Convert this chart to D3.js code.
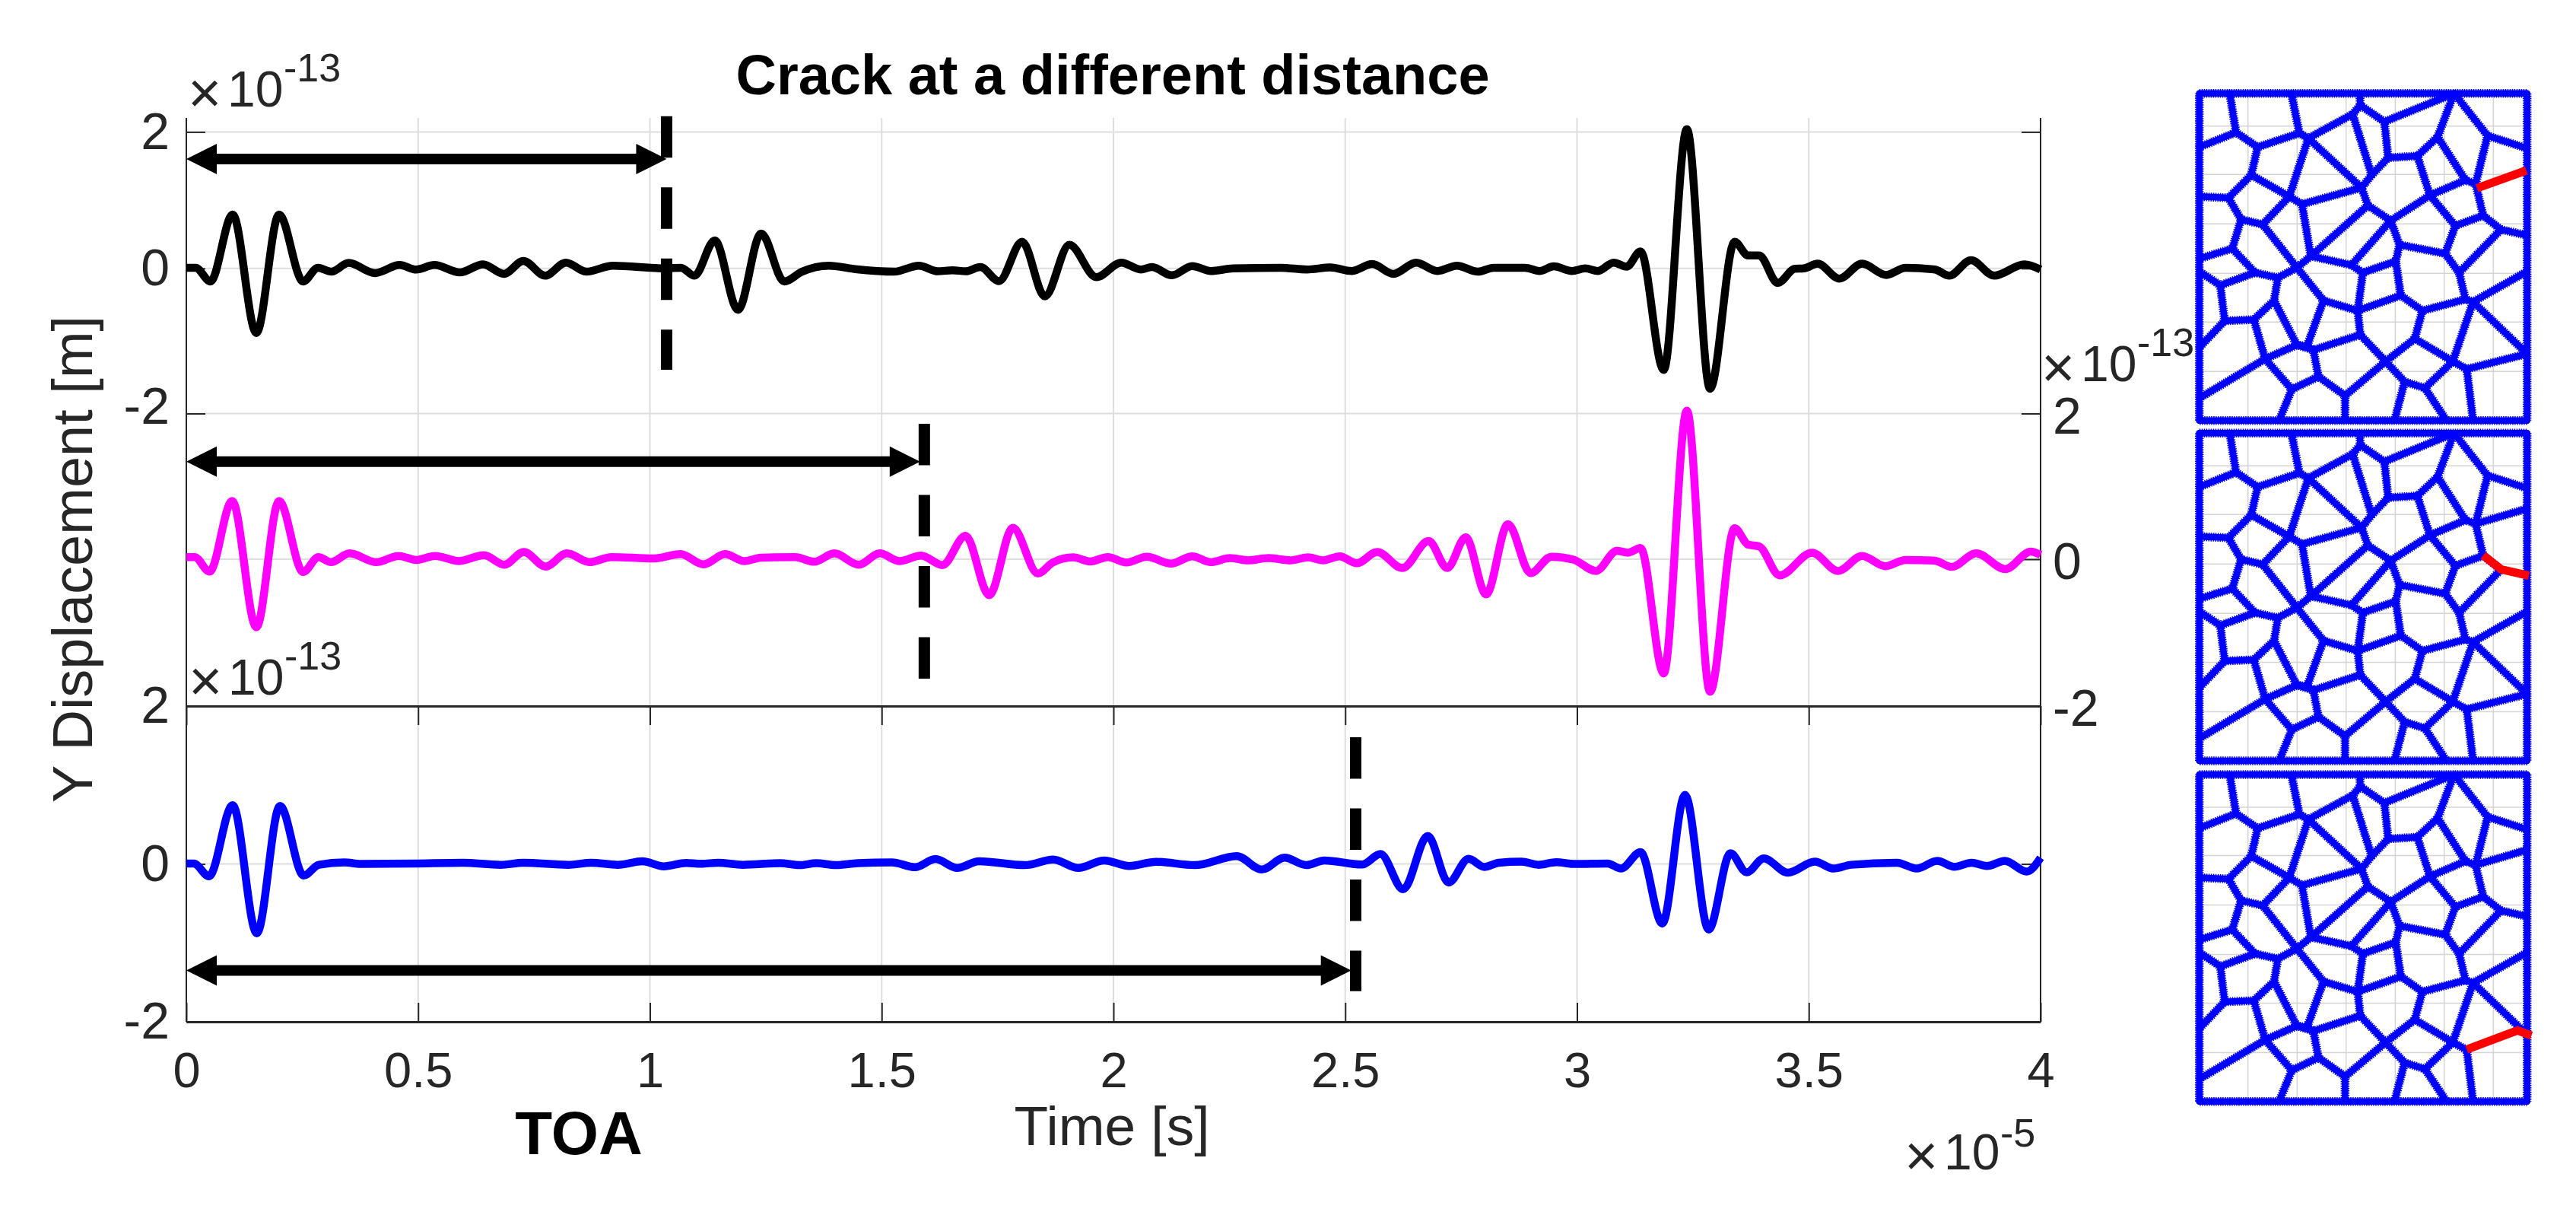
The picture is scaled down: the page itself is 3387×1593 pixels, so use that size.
<!doctype html>
<html lang="en">
<head>
<meta charset="utf-8">
<title>Crack at a different distance</title>
<script src="https://d3js.org/d3.v7.min.js"></script>
<style>
  body { margin: 0; background: #fff; }
  text { font-family: "Liberation Sans", Arial, sans-serif; fill: #262626; }
  .tick text { font-size: 65px; }
  .yaxis .tick text { font-size: 68px; }
  .tick line, .domain { stroke: #262626; }
</style>
</head>
<body>
<svg id="chart" width="3387" height="1593"></svg>
<script>
// time axis is in units of 1e-5 s, displacement in units of 1e-13 m
const xTicks = [0, 0.5, 1, 1.5, 2, 2.5, 3, 3.5, 4];
const xTickLabels = ["0", "0.5", "1", "1.5", "2", "2.5", "3", "3.5", "4"];
const yTicks = [-2, 0, 2];

const tBlack = [0,.02,.052,.10,.151,.20,.252,.284,.313,.35,.407,.46,.496,.535,.59,.64,.685,.727,.774,.819,.863,.92,1.035,1.067,1.096,1.14,1.19,1.24,1.29,1.328,1.386,1.443,1.527,1.58,1.621,1.653,1.681,1.713,1.753,1.803,1.852,1.905,1.963,2.017,2.059,2.083,2.126,2.17,2.21,2.258,2.361,2.417,2.468,2.514,2.558,2.604,2.653,2.699,2.741,2.786,2.82,2.888,2.919,2.95,2.989,3.018,3.045,3.079,3.107,3.137,3.187,3.237,3.287,3.34,3.369,3.393,3.433,3.47,3.489,3.519,3.566,3.615,3.667,3.709,3.772,3.803,3.85,3.9,3.965,4];
const yBlack = [.01,.01,-.18,.79,-.89,.79,-.18,.01,-.045,.08,-.065,.05,-.015,.05,-.055,.06,-.075,.11,-.10,.085,-.045,.04,0,.01,-.10,.41,-.57,.51,-.18,-.045,.04,-.01,-.045,.04,-.04,-.025,-.04,.02,-.175,.39,-.385,.345,-.12,.085,-.015,.02,-.095,.035,-.035,0,.01,-.015,.015,-.035,.065,-.075,.085,-.035,.04,-.045,.01,.01,-.035,.03,-.035,0,-.035,.085,.025,.25,-1.40,2.04,-1.66,.39,.19,.19,-.20,-.005,0,.07,-.14,.07,-.09,.01,-.015,-.10,.12,-.10,.06,-.015];

const tMagenta = [0,.018,.05,.099,.151,.20,.252,.285,.312,.352,.41,.458,.496,.537,.588,.642,.686,.728,.775,.821,.87,.917,1.009,1.066,1.116,1.162,1.204,1.239,1.314,1.354,1.398,1.45,1.496,1.538,1.585,1.631,1.681,1.732,1.783,1.837,1.869,1.913,1.95,1.988,2.028,2.072,2.124,2.17,2.21,2.251,2.291,2.334,2.382,2.42,2.452,2.488,2.525,2.569,2.623,2.68,2.72,2.76,2.804,2.851,2.9,2.945,2.992,3.041,3.086,3.11,3.137,3.187,3.237,3.287,3.34,3.369,3.393,3.437,3.507,3.563,3.615,3.665,3.709,3.772,3.808,3.861,3.924,3.979,4];
const yMagenta = [.03,.03,-.17,.80,-.93,.80,-.175,.03,-.04,.08,-.04,.045,-.01,.045,-.025,.055,-.075,.10,-.10,.08,-.04,.03,.01,.07,-.07,.07,-.025,.02,.03,-.035,.08,-.075,.08,-.025,.05,-.08,.32,-.49,.43,-.195,-.045,.025,-.03,.03,-.045,.035,-.06,.04,-.04,.015,-.015,.015,-.015,.025,-.015,.04,-.055,.10,-.12,.25,-.12,.30,-.48,.48,-.19,.035,-.005,-.16,.115,.09,.155,-1.56,2.04,-1.81,.425,.20,.175,-.22,.09,-.16,.045,-.095,-.01,-.02,-.105,.08,-.135,.105,.06];

const tBlue = [0,.016,.049,.10,.152,.202,.253,.286,.341,.376,.49,.596,.678,.727,.824,.873,.931,.984,1.03,1.078,1.11,1.147,1.2,1.281,1.323,1.359,1.401,1.448,1.522,1.572,1.616,1.663,1.71,1.809,1.87,1.924,1.98,2.034,2.092,2.175,2.266,2.32,2.369,2.416,2.455,2.536,2.576,2.625,2.678,2.723,2.766,2.8,2.831,2.88,2.917,2.955,2.996,3.066,3.095,3.137,3.184,3.233,3.284,3.331,3.366,3.403,3.455,3.513,3.554,3.591,3.69,3.733,3.777,3.814,3.851,3.884,3.923,3.97,4];
const yBlue = [.005,.005,-.155,.745,-.88,.735,-.145,-.01,.02,0,.005,.015,-.01,.015,-.01,.015,-.01,.035,-.03,.013,.003,.016,-.01,.01,-.014,.01,-.014,.01,.02,-.04,.063,-.05,.035,-.014,.056,-.05,.045,-.025,.028,-.014,.10,-.07,.08,-.014,.045,-.007,.126,-.32,.354,-.235,.065,-.037,.016,.03,-.01,.022,0,.006,-.058,.15,-.755,.875,-.83,.135,-.106,.07,-.11,.03,-.058,-.01,.016,-.058,.04,-.035,.016,-.026,.04,-.096,.08];

// time of arrival per trace: dashed marker position and arrow tip
const toaTimes = [1.036, 1.592, 2.5225];
const arrowEnds = [1.036, 1.583, 2.513];
const arrowLevels = [1.603, 1.339, -1.349];
const dashTop = [2.23, 1.86, 1.606];
const dashBottom = [-1.397, -1.635, -1.613];

const meshNodes = {
  a:[215,68],b:[458,68],c:[728,68],d:[1100,68],
  e:[95,280],f:[95,475],g:[95,720],h:[95,770],i:[95,1070],j:[95,1270],
  k:[1388,285],l:[1388,365],m:[1388,628],n:[1388,770],o:[1388,1095],
  p:[410,1358],q:[670,1358],r:[865,1358],s:[1070,1358],t:[1175,1358],
  A:[240,222],B:[325,280],C:[490,225],D:[525,245],E:[700,150],F:[730,115],G:[825,180],H:[840,322],
  I:[775,390],J:[955,315],K:[1035,240],L:[1232,235],M:[1145,410],N:[1185,425],O:[1005,470],P:[850,570],
  Q:[760,510],R:[735,440],S:[500,505],T:[450,475],U:[300,390],V:[210,480],W:[260,565],X:[345,585],
  Y:[225,680],Z:[315,775],AA:[405,795],AB:[480,755],AC:[535,710],AD:[695,745],AE:[740,775],AF:[870,730],
  AG:[885,665],AH:[1065,700],AI:[1105,590],AJ:[1215,550],AK:[1285,605],AL:[1120,775],AM:[1145,880],AN:[1175,890],
  AO:[975,925],AP:[890,865],AQ:[720,925],AR:[585,885],AS:[520,1065],AT:[480,1060],AU:[390,885],AV:[310,960],
  AW:[195,965],AX:[178,825],AY:[355,1115],AZ:[545,1080],BA:[730,1020],BB:[830,1125],BC:[945,1035],BD:[1095,1125],
  BE:[1150,1155],BF:[985,1230],BG:[905,1205],BH:[565,1185],BI:[460,1235],BJ:[670,1260],
  TL:[95,68],TR:[1388,68],BL:[95,1358],BR:[1388,1358]
};
const meshEdges = ["TL-TR","TR-BR","BR-BL","BL-TL","a-A","e-A","A-B","b-C","B-C","C-D","D-E","E-F","c-F","F-G","G-d","G-H","E-I","H-I","H-J","J-K","K-d","d-L","L-k","K-M","L-N","M-N","J-O","O-M","O-P","P-Q","I-R","R-Q","D-R","R-S","T-S","D-T","U-T","B-U","U-V","f-V","V-W","W-X","T-X","W-Y","g-Y","Y-Z","Z-AA","AA-AB","X-AB","AB-AC","S-AC","AC-Q","AC-AD","AD-P","AD-AE","AE-AF","AF-AG","P-AG","AG-AH","AH-AI","AI-O","AI-AJ","AJ-N","AJ-AK","AL-AK","AH-AL","AL-AM","AM-AN","AN-n","AM-AO","AO-AP","AF-AP","AP-AQ","AE-AQ","AQ-AR","AB-AR","AR-AS","AS-AZ","AT-AZ","AS-AT","AA-AU","AU-AT","AU-AV","AV-AW","AW-AX","AX-h","AX-Z","AW-i","AV-AY","AY-AT","AY-j","AQ-BA","AZ-BA","BA-BB","BB-BC","AO-BC","BC-BD","AN-BD","BD-BE","BE-t","AN-o","BD-BF","BF-BG","BB-BG","BG-r","BF-s","AZ-BH","BH-BI","AY-BI","BI-p","BH-BJ","BB-BJ","BJ-q"];
// each mesh has its own crack (red) and the edges it leaves in place
const meshExtra = [["AK-m","BE-o"], ["N-l","BE-o"], ["N-l","AK-m"]];
const cracks = [
  [[1190,442],[1385,372]],
  [[1215,549],[1285,604],[1395,629]],
  [[1150,1153],[1350,1078],[1405,1098]]
];
const meshGridX = [287,481,674,868,1061,1255];
const meshGridY = [197,388,583,778,970,1165];

const svg = d3.select("#chart");
const lineColors = ["#000000", "#ff00ff", "#0000ff"];
const curves = [[tBlack, yBlack], [tMagenta, yMagenta], [tBlue, yBlue]];

const x = d3.scaleLinear().domain([0, 4]).range([245, 2683]);
const y1 = d3.scaleLinear().domain([-2, 0, 2]).range([543.5, 352.8, 173.4]);
const y2 = d3.scaleLinear().domain([-2, 0, 2]).range([927.5, 735, 543.5]);
const y3 = d3.scaleLinear().domain([-2, 0, 2]).range([1343, 1135.6, 928]);
const yScales = [y1, y2, y3];
const axisTop = 155;

// grid
const grid = svg.append("g").attr("stroke", "#dedede").attr("stroke-width", 2);
grid.selectAll("line.v").data(xTicks.slice(1, -1)).enter().append("line")
  .attr("x1", d => x(d)).attr("x2", d => x(d)).attr("y1", axisTop).attr("y2", y3(-2));
[[y1, yTicks], [y2, [0]], [y3, [0]]].forEach(([sc, vals]) => {
  grid.selectAll(null).data(vals).enter().append("line")
    .attr("x1", x(0)).attr("x2", x(4)).attr("y1", d => sc(d)).attr("y2", d => sc(d));
});

// axes
function styleAxis(g, w) {
  g.selectAll(".domain").attr("stroke-width", w);
  g.selectAll(".tick line").attr("stroke-width", 2);
}
const xBottom = svg.append("g").attr("transform", `translate(0,${y3(-2)})`)
  .call(d3.axisBottom(x).tickValues(xTicks).tickSize(-25).tickSizeOuter(0).tickPadding(40)
    .tickFormat((d, i) => xTickLabels[i]));
styleAxis(xBottom, 3);
const xTop = svg.append("g").attr("transform", `translate(0,${y3(2)})`)
  .call(d3.axisTop(x).tickValues(xTicks).tickSize(-25).tickSizeOuter(0).tickFormat(""));
styleAxis(xTop, 3);

const leftAxes = [[y1, yTicks], [y3, yTicks]];
leftAxes.forEach(([sc, vals], i) => {
  const g = svg.append("g").attr("class", "yaxis").attr("transform", `translate(${x(0)},0)`)
    .call(d3.axisLeft(sc).tickValues(vals).tickSize(-25).tickSizeOuter(0).tickFormat(d => d === -2 ? "-2" : d));
  g.selectAll(".domain").remove();
  styleAxis(g, 2);
  g.selectAll(".tick text").attr("x", -22);
  // the lowest label of the top axis sits above its tick in the original
  if (i === 0) g.selectAll(".tick text").filter(d => d === -2).attr("y", -9);
});

const rightY2 = svg.append("g").attr("class", "yaxis").attr("transform", `translate(${x(4)},0)`)
  .call(d3.axisRight(y2).tickValues(yTicks).tickSize(-25).tickSizeOuter(0).tickFormat(d => d === -2 ? "-2" : d));
rightY2.selectAll(".domain").remove();
styleAxis(rightY2, 2);
rightY2.selectAll(".tick text").attr("x", 16).attr("dy", "0.38em");
[[y1, yTicks], [y3, [0]]].forEach(([sc, vals]) => {
  const g = svg.append("g").attr("transform", `translate(${x(4)},0)`)
    .call(d3.axisRight(sc).tickValues(vals).tickSize(-25).tickSizeOuter(0).tickFormat(""));
  g.selectAll(".domain").remove();
  styleAxis(g, 2);
});

// full height spines
[0, 4].forEach(v => {
  svg.append("line").attr("x1", x(v)).attr("x2", x(v)).attr("y1", axisTop).attr("y2", y3(-2))
    .attr("stroke", "#262626").attr("stroke-width", 2);
});

// traces
curves.forEach(([ts, ys], i) => {
  const line = d3.line().x(d => x(d)).y((d, k) => yScales[i](ys[k])).curve(d3.curveMonotoneX);
  svg.append("path").datum(ts).attr("d", line)
    .attr("fill", "none").attr("stroke", lineColors[i]).attr("stroke-width", 10.5).attr("stroke-linejoin", "round");
});

// TOA markers and arrows
toaTimes.forEach((t, i) => {
  const sc = yScales[i];
  svg.append("line").attr("x1", x(t)).attr("x2", x(t)).attr("y1", sc(dashTop[i])).attr("y2", sc(dashBottom[i]))
    .attr("stroke", "#000").attr("stroke-width", 15).attr("stroke-dasharray", "54.5 39");
  const x0 = x(0), x1 = x(arrowEnds[i]), yy = sc(arrowLevels[i]);
  svg.append("line").attr("x1", x0 + 30).attr("x2", x1 - 30).attr("y1", yy).attr("y2", yy)
    .attr("stroke", "#000").attr("stroke-width", 14);
  svg.append("path").attr("fill", "#000")
    .attr("d", d3.line()([[x0, yy], [x0 + 40, yy - 20], [x0 + 40, yy + 20]]) + "Z");
  svg.append("path").attr("fill", "#000")
    .attr("d", d3.line()([[x1, yy], [x1 - 40, yy - 20], [x1 - 40, yy + 20]]) + "Z");
});

// labels
function scaleNote(x0, base, supBase, sup) {
  svg.append("text").attr("x", x0 - 4).attr("y", base + 8).attr("font-size", 76).text("×");
  svg.append("text").attr("x", x0 + 48).attr("y", base).attr("font-size", 66).text("10");
  svg.append("text").attr("x", x0 + 122).attr("y", supBase).attr("font-size", 52).text(sup);
}
scaleNote(251, 140, 107, "-13");
scaleNote(2688, 500.6, 468, "-13");
scaleNote(252, 912.7, 880, "-13");
scaleNote(2508, 1537, 1507, "-5");

svg.append("text").attr("x", 1463).attr("y", 124).attr("text-anchor", "middle")
  .attr("font-size", 74).attr("font-weight", "bold").style("fill", "#000").text("Crack at a different distance");
svg.append("text").attr("transform", "translate(121,735) rotate(-90)").attr("text-anchor", "middle")
  .attr("font-size", 74).text("Y Displacement [m]");
svg.append("text").attr("x", 1462).attr("y", 1505).attr("text-anchor", "middle")
  .attr("font-size", 73).text("Time [s]");
svg.append("text").attr("x", 761).attr("y", 1517).attr("text-anchor", "middle")
  .attr("font-size", 80).attr("font-weight", "bold").style("fill", "#000").text("TOA");

// meshes
const meshTops = [122.7, 569.3, 1018];
const meshBottoms = [552.7, 1000, 1447.7];
const mx = d3.scaleLinear().domain([95, 1388]).range([2891.7, 3322.7]);
meshTops.forEach((top, i) => {
  const my = d3.scaleLinear().domain([68, 1358]).range([top, meshBottoms[i]]);
  const g = svg.append("g");
  g.selectAll("line.gx").data(meshGridX).enter().append("line")
    .attr("x1", d => mx(d)).attr("x2", d => mx(d)).attr("y1", my(68)).attr("y2", my(1358))
    .attr("stroke", "#d4d4d4").attr("stroke-width", 1.5);
  g.selectAll("line.gy").data(meshGridY).enter().append("line")
    .attr("x1", mx(95)).attr("x2", mx(1388)).attr("y1", d => my(d)).attr("y2", d => my(d))
    .attr("stroke", "#d4d4d4").attr("stroke-width", 1.5);
  const edges = meshEdges.concat(meshExtra[i]).map(e => e.split("-"));
  const seg = d3.line().x(p => mx(p[0])).y(p => my(p[1]));
  const paths = edges.map(([u, v]) => seg([meshNodes[u], meshNodes[v]]));
  g.selectAll(null).data(paths).enter().append("path").attr("d", d => d)
    .attr("fill", "none").attr("stroke", "#0000ff").attr("stroke-width", 8.5).attr("stroke-linecap", "round");
  g.selectAll(null).data(paths).enter().append("path").attr("d", d => d)
    .attr("fill", "none").attr("stroke", "#0000ff").attr("stroke-width", 11.5).attr("stroke-dasharray", "1.5 1.5");
  g.append("path").attr("d", seg(cracks[i])).attr("fill", "none")
    .attr("stroke", "#ff0000").attr("stroke-width", 11);
});
</script>
</body>
</html>
